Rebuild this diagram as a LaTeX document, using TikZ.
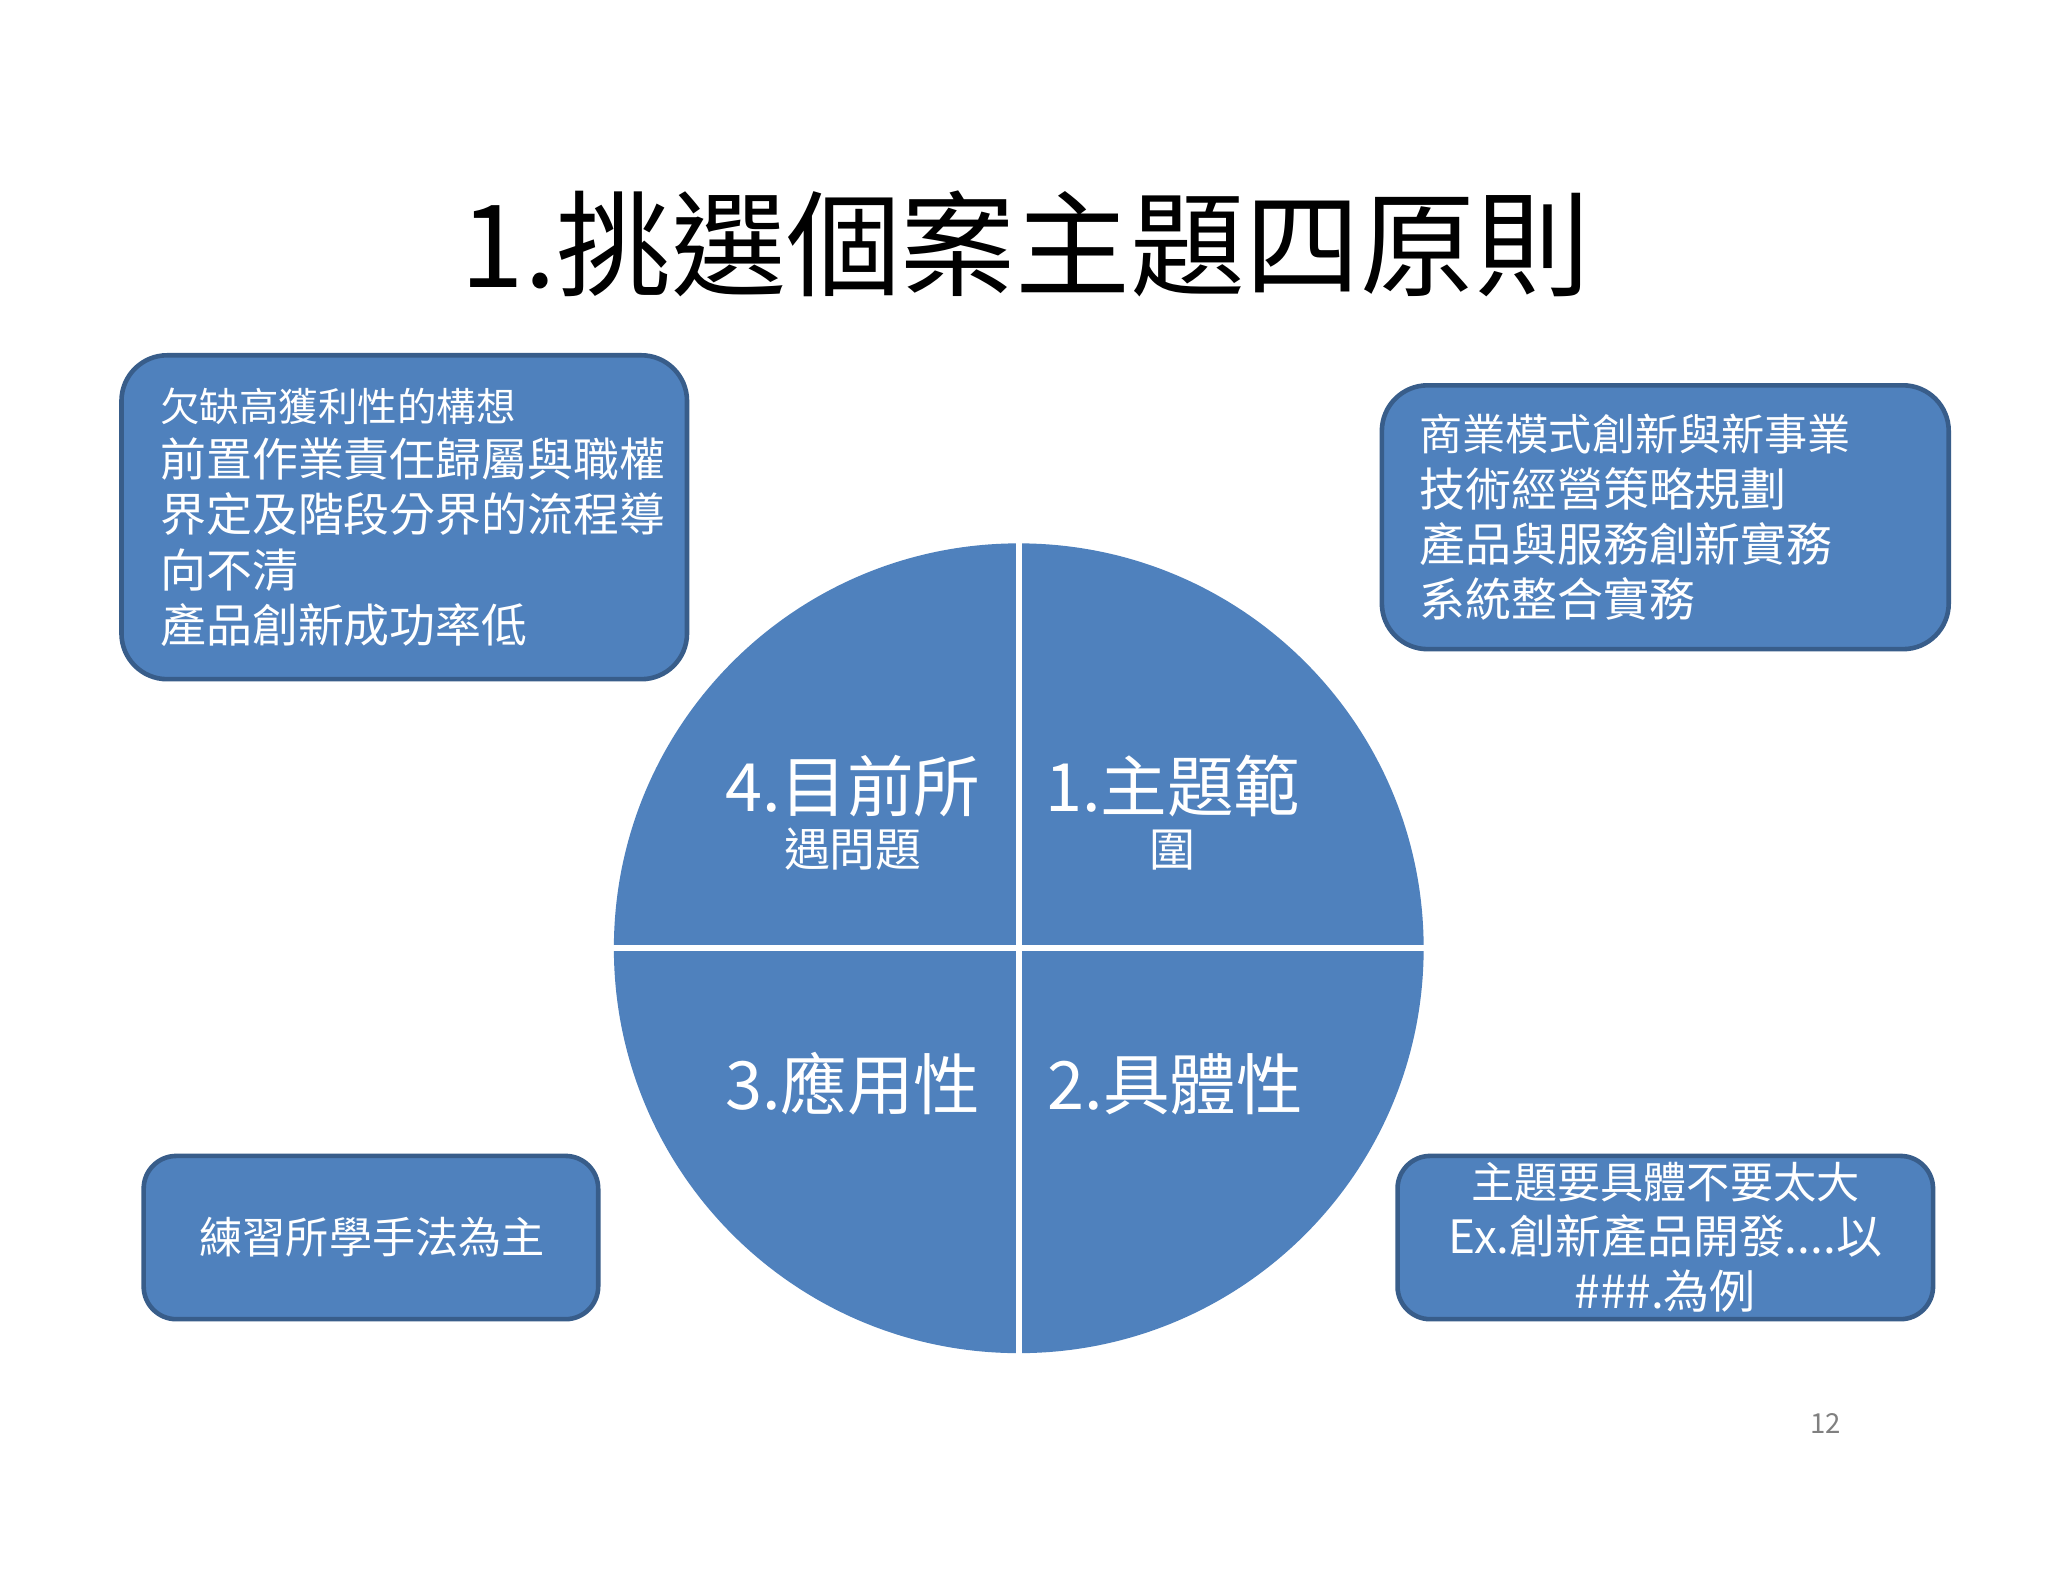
\documentclass[tikz,border=0pt]{standalone}
\usepackage{fontspec}
\setmainfont{Noto Sans CJK TC}
\begin{document}
\begin{tikzpicture}[x=0.01cm,y=-0.01cm,
  box/.style={draw=blue!40!black!80, fill=bl, line width=1pt, rounded corners=0.35cm},
  wt/.style={text=white, inner sep=0pt}]
\definecolor{bl}{HTML}{4F81BD}
\definecolor{bd}{HTML}{385D8A}
\useasboundingbox (0,0) rectangle (1568,1211);
\fill[white] (0,0) rectangle (1568,1211);
\node[inner sep=0pt] (title) at (785,187) {\fontsize{25}{30}\selectfont 1.挑選個案主題四原則};
% circle
\fill[bl] (780,726) circle (310);
\draw[white, line width=1.3pt] (780,410) -- (780,1042);
\draw[white, line width=1.3pt] (465,726) -- (1095,726);
\node[wt, align=center] (q4) at (653,622) {\fontsize{14.5}{24}\selectfont 4.目前所\\遇問題};
\node[wt, align=center] (q1) at (898,622) {\fontsize{14.5}{24}\selectfont 1.主題範\\圍};
\node[wt] (q3) at (653,830) {\fontsize{14.5}{24}\selectfont 3.應用性};
\node[wt] (q2) at (900,830) {\fontsize{14.5}{24}\selectfont 2.具體性};
% boxes
\draw[box, draw=bd] (93,272) rectangle (526,520);
\node[wt, align=left, anchor=west] (tl) at (122,396) {\fontsize{8.6}{10.8}\selectfont 欠缺高獲利性的構想\\前置作業責任歸屬與職權\\界定及階段分界的流程導\\向不清\\產品創新成功率低};
\draw[box, draw=bd] (1058,295) rectangle (1492,497);
\node[wt, align=left, anchor=west] (tr) at (1086,396) {\fontsize{9.4}{12.2}\selectfont 商業模式創新與新事業\\技術經營策略規劃\\產品與服務創新實務\\系統整合實務};
\draw[box, draw=bd, rounded corners=0.25cm] (110,885) rectangle (458,1010);
\node[wt] (bl) at (285,947) {\fontsize{9.4}{12}\selectfont 練習所學手法為主};
\draw[box, draw=bd, rounded corners=0.25cm] (1070,885) rectangle (1480,1010);
\node[wt, align=center] (br) at (1275,947) {\fontsize{9.4}{12}\selectfont 主題要具體不要太大\\Ex.創新產品開發....以\\\#\#\#.為例};
\node[text=gray, inner sep=0pt] (pg) at (1398,1090) {\fontsize{6}{7}\selectfont 12};
\end{tikzpicture}
\end{document}
